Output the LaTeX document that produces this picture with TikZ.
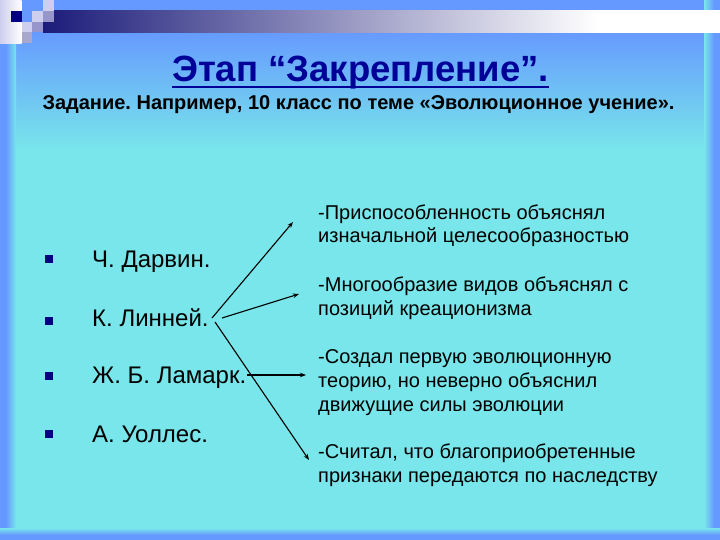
\documentclass[tikz,border=0pt]{standalone}
\usepackage{fontspec}
\setmainfont{Liberation Sans}
\usetikzlibrary{arrows.meta}
\definecolor{bgblue}{RGB}{102,153,255}
\definecolor{bgcyan}{RGB}{120,230,234}
\definecolor{navy}{RGB}{0,0,128}
\definecolor{titleblue}{RGB}{0,0,153}
\definecolor{barnavy}{RGB}{28,28,122}
\definecolor{lav}{RGB}{206,206,238}
\definecolor{midpurple}{RGB}{150,150,204}
\definecolor{graylav}{RGB}{168,168,206}
\pgfdeclarehorizontalshading{barshade}{100bp}{color(0bp)=(barnavy); color(25bp)=(barnavy); color(66bp)=(white); color(100bp)=(white)}
\frenchspacing
\begin{document}
\begin{tikzpicture}[x=1pt,y=-1pt,
  item/.style={anchor=base west, inner sep=0pt, font=\fontsize{24}{28}\selectfont},
  desc/.style={anchor=base west, inner sep=0pt, align=left, font=\fontsize{20}{24}\selectfont},
  bulletbox/.style={fill=navy, minimum size=8pt, inner sep=0pt},
  link/.style={-{Stealth[length=6pt,width=4.5pt]}, line width=1.1pt, black}]
\useasboundingbox (0,0) rectangle (720,540);
% background
\fill[bgcyan] (0,0) rectangle (720,540);
\fill[bgblue] (0,0) rectangle (720,30);
\shade[top color=bgblue, bottom color=bgcyan] (0,30) rectangle (720,150);
\fill[bgblue] (0,0) rectangle (6,540);
\shade[left color=bgblue, right color=bgcyan] (6,0) rectangle (16,540);
\fill[bgblue] (714,0) rectangle (720,540);
\shade[left color=bgcyan, right color=bgblue] (704,0) rectangle (714,540);
\fill[bgblue] (0,535) rectangle (720,540);
\shade[top color=bgcyan, bottom color=bgblue] (0,528) rectangle (720,535);
% top decoration
\shade[shading=barshade] (43.2,10.8) rectangle (720,32.4);
\shade[left color=lav, right color=white] (0,0) rectangle (21.6,43.2);
\fill[navy] (10.8,10.8) rectangle (21.6,21.6);
\fill[lav] (43.2,0) rectangle (54,10.8);
\fill[lav] (32.4,10.8) rectangle (43.2,21.6);
\fill[midpurple] (43.2,10.8) rectangle (54,21.6);
\fill[lav] (21.6,21.6) rectangle (32.4,32.4);
\fill[midpurple] (32.4,21.6) rectangle (43.2,32.4);
\fill[graylav] (21.6,32.4) rectangle (32.4,43.2);
% title
\node[anchor=base, inner sep=0pt, text=titleblue, font=\fontsize{36.5}{40}\selectfont\bfseries] (title) at (360.5,82) {Этап “Закрепление”.};
\draw[titleblue, line width=2pt] ([yshift=-5pt]title.base west) -- ([yshift=-5pt]title.base east);
\node[anchor=base, inner sep=0pt, font=\fontsize{20}{24}\selectfont\bfseries] (sub) at (358.5,110) {Задание. Например, 10 класс по теме «Эволюционное учение».};
% left items
\node[bulletbox] (b1) at (49,259) {};
\node[bulletbox] (b2) at (49,321) {};
\node[bulletbox] (b3) at (49,376) {};
\node[bulletbox] (b4) at (49,434) {};
\node[item] (darwin) at (92,267) {Ч. Дарвин.};
\node[item] (linnaeus) at (92,326) {К. Линней.};
\node[item] (lamarck) at (92,383) {Ж. Б. Ламарк.};
\node[item] (wallace) at (92,442) {А. Уоллес.};
% right descriptions (base = last line)
\node[desc] (d1) at (318,243) {-Приспособленность объяснял\\изначальной целесообразностью};
\node[desc] (d2) at (318,315) {-Многообразие видов объяснял с\\позиций креационизма};
\node[desc] (d3) at (318,411) {-Создал первую эволюционную\\теорию, но неверно объяснил\\движущие силы эволюции};
\node[desc] (d4) at (318,482) {-Считал, что благоприобретенные\\признаки передаются по наследству};
% connectors
\coordinate (s1) at (212,318);
\coordinate (e1) at (293,222);
\coordinate (s2) at (222,318);
\coordinate (e2) at (299,294);
\coordinate (s3) at (247,375);
\coordinate (e3) at (306,375);
\coordinate (s4) at (215,322);
\coordinate (e4) at (309,460);
\draw[link] (s1) -- (e1);
\draw[link] (s2) -- (e2);
\draw[link] (s3) -- (e3);
\draw[link] (s4) -- (e4);
\end{tikzpicture}
\end{document}
